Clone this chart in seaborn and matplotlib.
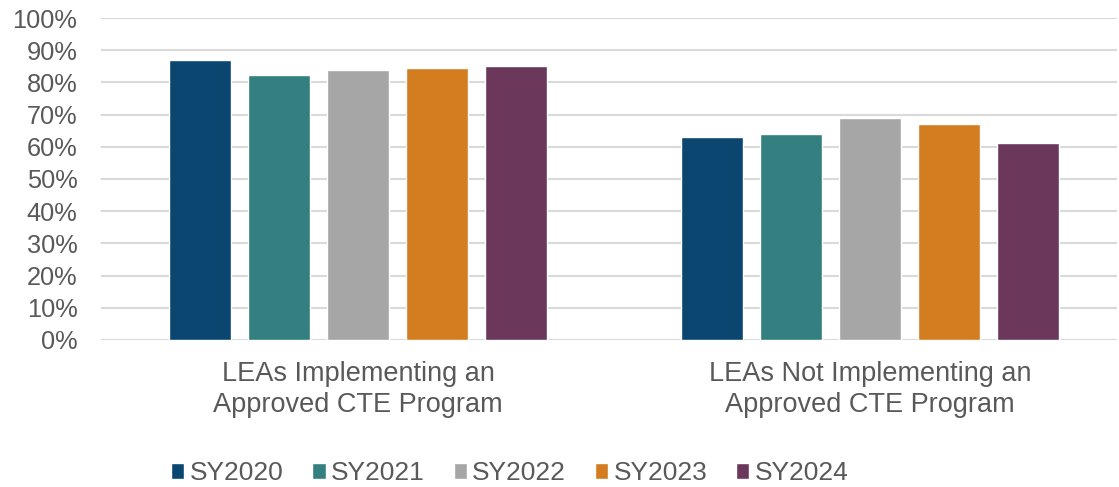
import matplotlib
matplotlib.use("Agg")
import matplotlib.pyplot as plt
import seaborn as sns
import pandas as pd
from matplotlib.ticker import PercentFormatter

categories = ["LEAs Implementing an\nApproved CTE Program",
              "LEAs Not Implementing an\nApproved CTE Program"]
years = ["SY2020", "SY2021", "SY2022", "SY2023", "SY2024"]
sy2020 = [0.87, 0.63]
sy2021 = [0.822, 0.641]
sy2022 = [0.837, 0.69]
sy2023 = [0.845, 0.67]
sy2024 = [0.852, 0.611]
colors = ["#0B4670", "#347F7F", "#A6A6A6", "#D47D20", "#6B385B"]

series = [sy2020, sy2021, sy2022, sy2023, sy2024]
rows = []
for yr, vals in zip(years, series):
    for cat, v in zip(categories, vals):
        rows.append({"category": cat, "year": yr, "value": v})
df = pd.DataFrame(rows)

sns.set_theme(style="white")
plt.rcParams["font.family"] = ["Liberation Sans", "DejaVu Sans"]
text_color = "#595959"

fig = plt.figure(figsize=(11.19, 4.87), dpi=100)
ax = fig.add_axes([0.0903, 0.302, 0.908, 0.661])

sns.barplot(data=df, x="category", y="value", hue="year", order=categories,
            hue_order=years, palette=colors, width=0.771, gap=0.215,
            saturation=1, errorbar=None, ax=ax, legend=True)

ax.set_xlim(-0.502, 1.482)
ax.set_ylim(0, 1)
ax.set_yticks([i / 10 for i in range(11)])
ax.yaxis.set_major_formatter(PercentFormatter(1.0, decimals=0))
ax.grid(axis="y", color="#D9D9D9", linewidth=1.5)
ax.set_axisbelow(True)
for s in ax.spines.values():
    s.set_visible(False)
ax.tick_params(axis="y", length=0, labelsize=18.3, colors=text_color, pad=17)
ax.tick_params(axis="x", length=0, labelsize=19.5, colors=text_color, pad=15)
for lbl in ax.get_xticklabels():
    lbl.set_linespacing(1.25)
ax.set_xlabel("")
ax.set_ylabel("")

ax.get_legend().remove()
handles, labels = ax.get_legend_handles_labels()
fig.legend(handles, labels, loc="center", bbox_to_anchor=(0.4556, 0.028),
           ncol=5, frameon=False, fontsize=19, labelcolor=text_color,
           handlelength=0.5, handleheight=0.5, handletextpad=0.2,
           columnspacing=1.1)

fig.savefig("out.png", dpi=100)
